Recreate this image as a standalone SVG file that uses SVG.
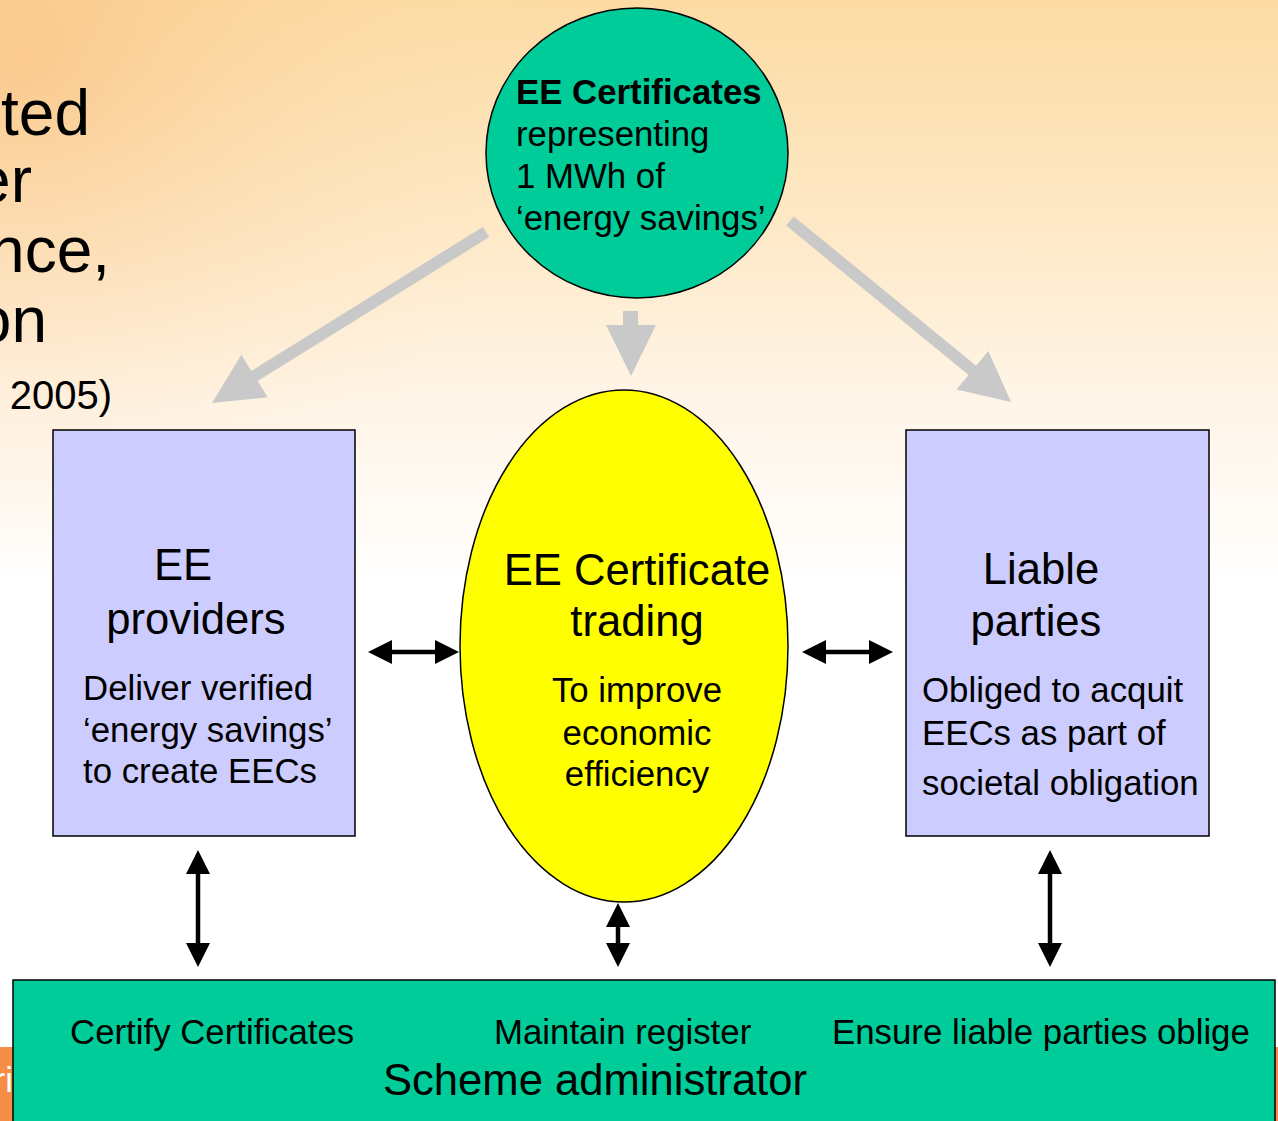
<svg xmlns="http://www.w3.org/2000/svg" width="1278" height="1121" viewBox="0 0 1278 1121">
  <defs>
    <linearGradient id="bgv" x1="0" y1="0" x2="0" y2="1121" gradientUnits="userSpaceOnUse">
      <stop offset="0" stop-color="#FCDBA3"/>
      <stop offset="0.22" stop-color="#FEEACA"/>
      <stop offset="0.36" stop-color="#FFF5E8"/>
      <stop offset="0.48" stop-color="#FFFCF8"/>
      <stop offset="0.52" stop-color="#FFFFFF"/>
      <stop offset="1" stop-color="#FFFFFF"/>
    </linearGradient>
    <radialGradient id="bgr" cx="20" cy="60" r="520" gradientUnits="userSpaceOnUse">
      <stop offset="0" stop-color="#F8B46E" stop-opacity="0.5"/>
      <stop offset="0.5" stop-color="#FAC88F" stop-opacity="0.22"/>
      <stop offset="1" stop-color="#FDE0B8" stop-opacity="0"/>
    </radialGradient>
    <marker id="ah" viewBox="0 0 24 24" refX="18" refY="12" markerWidth="24" markerHeight="24" markerUnits="userSpaceOnUse" orient="auto-start-reverse">
      <path d="M0,0 L24,12 L0,24 z" fill="#000"/>
    </marker>
    <style>
      .t { font-family: "Liberation Sans", Arial, sans-serif; fill: #000; }
      .s34 { font-size: 34.8px; }
      .s43 { font-size: 43.6px; }
      .bg { font-size: 64px; }
      .b { font-weight: bold; }
      .mid { text-anchor: middle; }
      .end { text-anchor: end; }
      .node { stroke: #000; stroke-width: 1.5; }
      .gray { fill: #C9C9C9; }
      .dbl { stroke: #000; stroke-width: 4.5; fill: none; marker-start: url(#ah); marker-end: url(#ah); }
    </style>
  </defs>

  <g id="background">
    <rect x="0" y="0" width="1278" height="1121" fill="url(#bgv)"/>
    <rect x="0" y="0" width="1278" height="620" fill="url(#bgr)"/>
    <rect x="0" y="1047" width="14" height="74" fill="#F68D45"/>
    <rect x="1274" y="1047" width="4" height="74" fill="#F68D45"/>
    <text class="t" x="13" y="1092" font-size="35" text-anchor="end" style="fill:#FFFFFF">ri</text>
    <text class="t bg end" x="90" y="135">ted</text>
    <text class="t bg end" x="32" y="202">er</text>
    <text class="t bg end" x="110" y="272">nce,</text>
    <text class="t bg end" x="47" y="342">on</text>
    <text class="t end" x="112" y="409" font-size="40">2005)</text>
  </g>

  <g id="connectors">
    <polygon class="gray" points="482.8,226.9 251.3,370.9 241.3,354.8 212,403 267.7,397.2 257.7,381.1 489.2,237.1"/>
    <polygon class="gray" points="623,311 638,311 638,325 656,325 631,376 606,325 623,325"/>
    <polygon class="gray" points="793.8,216.4 976.2,365.7 988.3,351 1011,402 956.5,389.6 968.6,374.9 786.2,225.6"/>
    <line class="dbl" x1="374" y1="652" x2="453" y2="652"/>
    <line class="dbl" x1="808" y1="652" x2="887" y2="652"/>
    <line class="dbl" x1="198" y1="856" x2="198" y2="961"/>
    <line class="dbl" x1="618" y1="909" x2="618" y2="961"/>
    <line class="dbl" x1="1050" y1="856" x2="1050" y2="961"/>
  </g>

  <g id="certificates">
    <ellipse class="node" cx="637" cy="153" rx="151" ry="145" fill="#00CC99"/>
    <text class="t s34 b" x="516" y="104">EE Certificates</text>
    <text class="t s34" x="516" y="146">representing</text>
    <text class="t s34" x="516" y="188">1 MWh of</text>
    <text class="t s34" x="516" y="230">‘energy savings’</text>
  </g>

  <g id="trading">
    <ellipse class="node" cx="624" cy="646" rx="164" ry="256" fill="#FFFF00"/>
    <text class="t s43 mid" x="637" y="585">EE Certificate</text>
    <text class="t s43 mid" x="637" y="636">trading</text>
    <text class="t s34 mid" x="637" y="702">To improve</text>
    <text class="t s34 mid" x="637" y="745">economic</text>
    <text class="t s34 mid" x="637" y="786">efficiency</text>
  </g>

  <g id="providers">
    <rect class="node" x="53" y="430" width="302" height="406" fill="#CCCCFF"/>
    <text class="t s43 mid" x="183" y="580">EE</text>
    <text class="t s43 mid" x="196" y="634">providers</text>
    <text class="t s34" x="83" y="700">Deliver verified</text>
    <text class="t s34" x="83" y="742">‘energy savings’</text>
    <text class="t s34" x="83" y="783">to create EECs</text>
  </g>

  <g id="liable">
    <rect class="node" x="906" y="430" width="303" height="406" fill="#CCCCFF"/>
    <text class="t s43 mid" x="1041" y="584">Liable</text>
    <text class="t s43 mid" x="1036" y="636">parties</text>
    <text class="t s34" x="922" y="702">Obliged to acquit</text>
    <text class="t s34" x="922" y="745">EECs as part of</text>
    <text class="t s34" x="922" y="795">societal obligation</text>
  </g>

  <g id="administrator">
    <rect class="node" x="13" y="980" width="1262" height="160" fill="#00CC99"/>
    <text class="t s34" x="70" y="1044">Certify Certificates</text>
    <text class="t s34" x="494" y="1044">Maintain register</text>
    <text class="t s34" x="832" y="1044">Ensure liable parties oblige</text>
    <text class="t s43" x="383" y="1095">Scheme administrator</text>
  </g>
</svg>
